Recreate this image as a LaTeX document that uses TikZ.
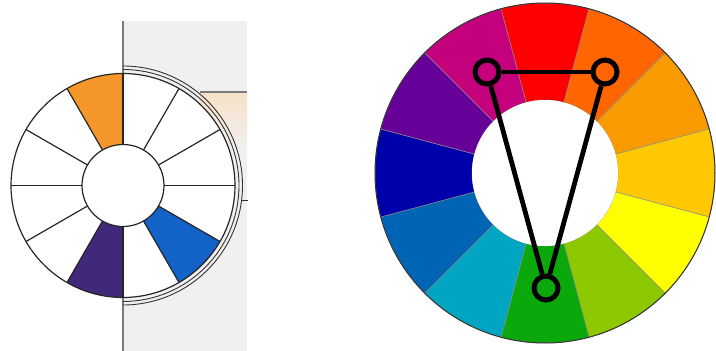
\documentclass[tikz,border=0pt]{standalone}
\usetikzlibrary{calc}
\definecolor{bggray}{HTML}{F0F0F0}
\definecolor{beige}{HTML}{F6E2C8}
\definecolor{rulegray}{HTML}{7A7A7A}
\definecolor{lorange}{HTML}{F5962A}
\definecolor{lpurple}{HTML}{41287A}
\definecolor{lblue}{HTML}{1262C8}
\definecolor{c90}{HTML}{FF0000}
\definecolor{c60}{HTML}{FF6600}
\definecolor{c30}{HTML}{F89A00}
\definecolor{c0}{HTML}{FFC800}
\definecolor{cm30}{HTML}{FFFF00}
\definecolor{cm60}{HTML}{8DC800}
\definecolor{cm90}{HTML}{0BA80B}
\definecolor{cm120}{HTML}{00A5C2}
\definecolor{cm150}{HTML}{0064B4}
\definecolor{c180}{HTML}{0000AA}
\definecolor{c150}{HTML}{660099}
\definecolor{c120}{HTML}{C4007C}
\tikzset{
  wline/.style={draw=black!85, line width=1.2pt},
  marker/.style={circle, draw=black, line width=5pt, minimum size=24pt, inner sep=0pt},
  link/.style={draw=black, line width=4.8pt},
}
\begin{document}
\begin{tikzpicture}[x=1pt,y=1pt]
\useasboundingbox (0,0) rectangle (716,-351);
% ---------- left panel background ----------
\fill[bggray] (123,-21) rectangle (247,-351);
\shade[top color=beige, bottom color=bggray] (200,-93) rectangle (247,-150);
\draw[rulegray, line width=1.8pt] (200,-92) -- (247,-92);
\draw[rulegray, line width=2.2pt] (123,-21) -- (123,-351);
% ---------- left wheel ----------
\begin{scope}[shift={(123,-185.5)}]
  \fill[white] (0,0) circle (112);
  \fill[lorange] (90:41) -- (90:112) arc (90:120:112) -- (120:41) arc (120:90:41) -- cycle;
  \fill[lblue] (-60:41) -- (-60:112) arc (-60:-30:112) -- (-30:41) arc (-30:-60:41) -- cycle;
  \fill[lpurple] (240:41) -- (240:112) arc (240:270:112) -- (270:41) arc (270:240:41) -- cycle;
  \foreach \a in {0,30,...,330} \draw[wline] (\a:41) -- (\a:112);
  \draw[wline] (0,0) circle (112);
  \draw[wline] (0,0) circle (41);
  \draw[black!80, line width=0.9pt] (90:116) arc (90:-90:116);
  \draw[black!80, line width=0.9pt] (90:119.5) arc (90:-90:119.5);
  \coordinate (tickA) at (-7:119.5);
  \coordinate (tickB) at ($(tickA)+(6,0)$);
  \draw[black!80, line width=0.9pt] (tickA) -- (tickB);
\end{scope}
% ---------- right wheel ----------
\begin{scope}[shift={(545,-173)}]
  \foreach \a/\c in {90/c90,60/c60,30/c30,0/c0,-30/cm30,-60/cm60,-90/cm90,-120/cm120,-150/cm150,180/c180,150/c150,120/c120}{
    \fill[\c, draw=black!45, line width=0.5pt] ({\a-15}:73) -- ({\a-15}:170) arc ({\a-15}:{\a+15}:170) -- ({\a+15}:73) arc ({\a+15}:{\a-15}:73) -- cycle;
  }
  \fill[white] (0,0) circle (73);
  \draw[black!80, line width=1pt] (0,0) circle (170);
  \node[marker] (m1) at (-58,101) {};
  \node[marker] (m2) at (60,101) {};
  \node[marker] (m3) at (1,-115) {};
  \draw[link] (m1) -- (m2);
  \draw[link] (m1) -- (m3);
  \draw[link] (m2) -- (m3);
\end{scope}
\end{tikzpicture}
\end{document}
